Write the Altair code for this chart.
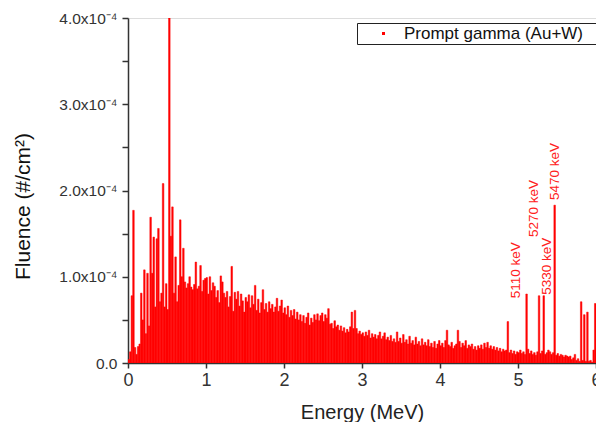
import altair as alt
import pandas as pd

# Fluence per 0.02 MeV bin, in units of 1e-5 #/cm^2
bin_width = 0.02
fluence_e5 = [
    0.4, 1.3, 7.8, 17.7, 1.8, 1.0, 1.9, 2.2, 8.1, 5.0,
    10.8, 3.4, 10.4, 4.3, 16.9, 10.4, 14.6, 6.5, 14.4, 15.6,
    7.1, 8.1, 20.8, 6.5, 9.2, 6.2, 40.0, 14.7, 18.1, 8.1,
    12.3, 7.1, 9.0, 16.6, 10.0, 13.3, 9.4, 8.7, 9.2, 10.0,
    8.8, 8.5, 9.1, 11.7, 8.6, 8.9, 11.3, 8.3, 9.6, 9.8,
    9.9, 8.0, 10.0, 8.4, 9.3, 8.9, 7.6, 8.4, 7.0, 10.1,
    9.4, 8.1, 7.6, 8.3, 6.5, 7.7, 11.2, 6.0, 8.2, 7.4,
    8.3, 6.6, 8.0, 7.2, 5.9, 7.6, 7.1, 7.9, 6.4, 7.8,
    6.8, 9.0, 6.1, 7.4, 5.8, 7.0, 8.5, 6.2, 6.9, 5.9,
    7.1, 6.3, 6.8, 5.9, 6.5, 7.5, 6.0, 6.6, 7.3, 5.8,
    6.4, 5.6, 6.6, 5.3, 6.1, 5.5, 6.2, 5.1, 5.9, 5.0,
    5.6, 4.8, 5.5, 4.6, 5.3, 5.8, 4.4, 5.2, 4.7, 5.6,
    5.0, 5.7, 4.9, 5.5, 5.8, 4.8, 5.6, 5.2, 6.3, 4.5,
    4.6, 4.0, 4.9, 4.2, 4.4, 3.8, 4.3, 3.7, 4.1, 3.5,
    3.9, 3.6, 4.2, 5.9, 4.0, 6.1, 4.0, 3.4, 3.7, 3.3,
    3.5, 3.1, 3.6, 3.2, 3.8, 2.9, 3.4, 3.0, 3.3, 2.8,
    3.2, 3.6, 2.8, 3.1, 3.5, 2.7, 3.0, 2.6, 3.2, 2.5,
    2.8, 2.4, 3.6, 2.5, 2.9, 2.3, 3.3, 2.4, 2.7, 2.2,
    3.1, 2.3, 2.6, 2.1, 3.0, 2.2, 2.5, 2.0, 2.8, 2.1,
    2.4, 2.0, 2.7, 1.9, 2.3, 1.8, 2.5, 1.7, 2.2, 2.6,
    2.0, 2.3, 1.8, 2.6, 3.8, 2.1, 1.9, 2.4, 1.7, 2.0,
    2.2, 3.8, 2.5, 1.8, 2.3, 2.0, 2.6, 1.7, 2.1, 1.9,
    2.2, 1.6, 1.9, 1.5, 2.0, 1.7, 2.1, 1.6, 2.3, 1.8,
    2.4, 1.7, 2.0, 1.6, 1.9, 1.5, 1.8, 1.4, 1.7, 1.3,
    1.6, 1.4, 1.5, 4.8, 1.2, 1.5, 1.1, 1.4, 1.0, 1.3,
    1.2, 1.5, 1.1, 1.3, 1.0, 8.0, 1.6, 1.1, 1.4, 1.0,
    1.2, 0.9, 1.3, 7.8, 1.1, 1.4, 7.8, 1.0, 1.2, 1.5,
    1.3, 1.0, 1.2, 18.3, 0.9, 1.1, 0.8, 1.0, 0.9, 0.7,
    0.9, 0.8, 0.7, 0.8, 0.4, 0.6, 1.0, 0.3, 0.5, 0.2,
    7.1, 0.3, 5.6, 0.2, 5.9, 0.2, 0.3, 0.1, 1.5, 6.9,
]
series_name = "Prompt gamma (Au+W)"

# peak annotations (label, energy MeV, fluence position in 1e-4)
ann_labels = ["5110 keV", "5270 keV", "5330 keV", "5470 keV"]
ann_energy = [4.97, 5.20, 5.37, 5.47]
ann_level = [0.75, 1.46, 0.79, 1.89]

df = pd.DataFrame({
    "e0": [round(i * bin_width, 2) for i in range(len(fluence_e5))],
    "e1": [round((i + 1) * bin_width, 2) for i in range(len(fluence_e5))],
    "f": [v * 1e-5 for v in fluence_e5],
    "series": [series_name + "\u2800"] * len(fluence_e5),
})
ann = pd.DataFrame({
    "label": ann_labels,
    "e": ann_energy,
    "f": [v * 1e-4 for v in ann_level],
})

font = "Liberation Sans"

x_scale = alt.Scale(domain=[0, 6], nice=False, zero=False)
y_scale = alt.Scale(domain=[0, 4e-4], nice=False)

bars = alt.Chart(df).mark_rect(clip=True, stroke="#ff0000", strokeWidth=0.5).encode(
    x=alt.X("e0:Q", scale=x_scale, axis=alt.Axis(
        title="Energy (MeV)", values=[0, 0.5, 1, 1.5, 2, 2.5, 3, 3.5, 4, 4.5, 5, 5.5, 6],
        labelExpr="datum.value % 1 == 0 ? format(datum.value, 'd') : ''",
        labelFontSize=18, labelColor="#333", labelFont=font, labelPadding=3,
        tickSize=5, tickColor="#333", tickWidth=1.5, domainColor="#333", domainWidth=1.5,
        grid=False, titleFont=font, titleFontSize=20, titleFontWeight="normal",
        titleColor="#222", titleBaseline="alphabetic", titleY=55, labelFlush=False,
    )),
    x2="e1:Q",
    y=alt.Y("f:Q", scale=y_scale, axis=alt.Axis(
        title="Fluence (#/cm²)",
        values=[0, 0.5e-4, 1e-4, 1.5e-4, 2e-4, 2.5e-4, 3e-4, 3.5e-4, 4e-4],
        labelExpr="(round(datum.value*2e4) % 2) ? '' : (datum.value == 0 ? '0.0' : format(datum.value*1e4, '.1f') + 'x10⁻⁴')",
        labelFontSize=15.5, labelColor="#333", labelFont=font, labelPadding=5,
        tickSize=6, tickColor="#333", tickWidth=1.5, domainColor="#333", domainWidth=1.5,
        grid=False, titleFont=font, titleFontSize=21, titleFontWeight="normal",
        titleColor="#111", titleBaseline="alphabetic", titleAngle=270,
        titleX=-99, titleY=188, labelFlush=False,
    )),
    y2=alt.datum(0),
    color=alt.Color("series:N", scale=alt.Scale(range=["#ff0000"]), legend=alt.Legend(
        title=None, orient="none", legendX=229, legendY=5,
        symbolType="square", symbolSize=9, symbolFillColor="#ff0000", symbolStrokeWidth=0,
        symbolOffset=16, labelOffset=12, labelFontSize=17, labelFont=font, labelColor="#111",
        labelLimit=400, padding=2, strokeColor="#222", fillColor="white",
    )),
)

labels = alt.Chart(ann).mark_text(
    angle=270, align="left", baseline="middle", color="#ff2020",
    fontSize=13.5, font=font,
).encode(
    x=alt.X("e:Q", scale=x_scale),
    y=alt.Y("f:Q", scale=y_scale),
    text="label:N",
)

chart = alt.layer(bars, labels).properties(
    width=468, height=345,
    autosize=alt.AutoSizeParams(type="none"),
    padding={"left": 120, "top": 10, "right": 0, "bottom": 59},
).configure_view(stroke="#333", strokeWidth=1.5).configure(background="white")

chart.save("out.html", embed_options={"renderer": "svg", "actions": False})
